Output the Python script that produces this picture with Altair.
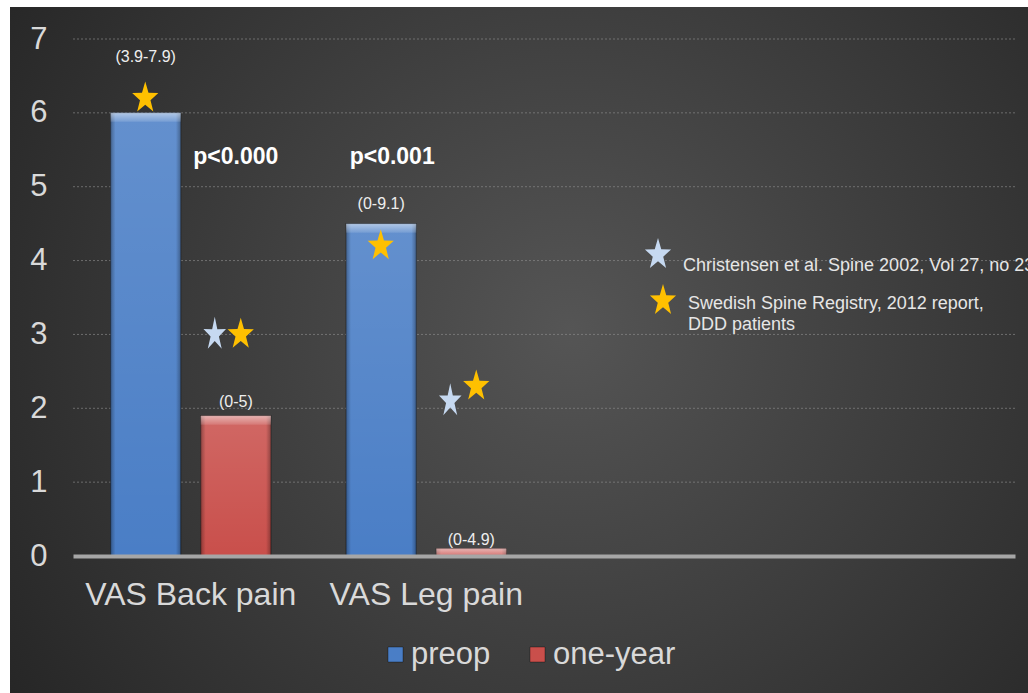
import math
import altair as alt
import pandas as pd

# ---- data -------------------------------------------------------------
categories = ["VAS Back pain", "VAS Leg pain"]
series = ["preop", "one-year"]
preop_means = [6.0, 4.5]
one_year_means = [1.9, 0.1]

# range of each group, printed above the bars (and the height it sits at)
preop_ranges = ["(3.9-7.9)", "(0-9.1)"]
one_year_ranges = ["(0-5)", "(0-4.9)"]
preop_range_at = [6.75, 4.76]
one_year_range_at = [2.08, 0.22]

# comparison cohorts drawn as stars
christensen_one_year = [3.0, 2.1]
registry_preop = [6.2, 4.2]
registry_one_year = [3.0, 2.3]

p_values = ["p<0.000", "p<0.001"]
p_value_at = 5.4

y_ticks = [0, 1, 2, 3, 4, 5, 6, 7]

christensen_label = "Christensen et al. Spine 2002, Vol 27, no 23"
registry_label = ["Swedish Spine Registry, 2012 report,", "DDD patients"]

# ---- tables -----------------------------------------------------------
bars = pd.DataFrame({
    "category": categories * 2,
    "series": [series[0]] * 2 + [series[1]] * 2,
    "y": preop_means + one_year_means,
})
ranges = pd.DataFrame({
    "category": categories * 2,
    "series": [series[0]] * 2 + [series[1]] * 2,
    "label": preop_ranges + one_year_ranges,
    "y": preop_range_at + one_year_range_at,
})
stars_christensen = pd.DataFrame({
    "category": categories,
    "y": christensen_one_year,
})
stars_registry_preop = pd.DataFrame({
    "category": categories,
    "y": registry_preop,
})
stars_registry_one_year = pd.DataFrame({
    "category": categories,
    "y": registry_one_year,
})
pvals = pd.DataFrame({
    "category": categories,
    "series": [series[1], series[0]],
    "label": p_values,
    "y": [p_value_at] * 2,
})
grid = pd.DataFrame({"y": y_ticks[1:]})
legend_rows = pd.DataFrame({"series": series})
one_row = pd.DataFrame({"k": [0]})

# ---- styling ----------------------------------------------------------
FONT = "Liberation Sans"
BLUE = "#4a7ec6"
RED = "#c94f4b"
GOLD = "#ffc000"
PALE = "#c6d9f1"
LABEL = "#d9d9d9"


def star_path(width_factor, inner):
    pts = []
    for i in range(10):
        ang = math.radians(-90 + 36 * i)
        r = 1.0 if i % 2 == 0 else inner
        pts.append((width_factor * r * math.cos(ang), r * math.sin(ang)))
    return "M" + "L".join(f"{x:.4f},{y:.4f}" for x, y in pts) + "Z"


STAR = star_path(0.83, 0.40)
STAR_NARROW = star_path(0.67, 0.37)

x_domain = categories + [" ", "  "]
X = alt.X(
    "category:N",
    scale=alt.Scale(domain=x_domain, paddingInner=0, paddingOuter=0),
    axis=alt.Axis(
        title=None, labelAngle=0, labelFontSize=32, labelColor=LABEL,
        labelFont=FONT, labelPadding=23, labelLimit=0, ticks=False,
        domainColor="#a6a6a6", domainWidth=4, grid=False, zindex=1,
    ),
)
XO = alt.XOffset(
    "series:N",
    scale=alt.Scale(domain=series, paddingInner=0.222, paddingOuter=0.417),
)
Y = alt.Y(
    "y:Q",
    stack=False,
    scale=alt.Scale(domain=[0, 7], nice=False),
    axis=alt.Axis(
        title=None, values=y_ticks, labelFontSize=31, labelColor=LABEL,
        labelFont=FONT, labelPadding=26, ticks=False, domain=False,
        grid=False, zindex=1,
    ),
)
COLOR = alt.Color(
    "series:N", scale=alt.Scale(domain=series, range=[BLUE, RED]), legend=None
)

backdrop = alt.Chart(one_row).mark_rect(
    fill={
        "gradient": "radial",
        "x1": 0.55, "y1": 0.48, "r1": 0,
        "x2": 0.55, "y2": 0.48, "r2": 0.66,
        "stops": [
            {"offset": 0, "color": "#555555"},
            {"offset": 1, "color": "#262626"},
        ],
    }
).encode(
    x=alt.value(-63), x2=alt.value(955), y=alt.value(-32), y2=alt.value(654)
)

gridlines = alt.Chart(grid).mark_rule(
    color="#8c8c8c", strokeDash=[2, 2], strokeWidth=1, opacity=0.65
).encode(y=Y, x=alt.value(0), x2=alt.value(942))

bar_layer = alt.Chart(bars).mark_bar(
    stroke="rgba(0,0,0,0.35)", strokeWidth=1.2
).encode(x=X, xOffset=XO, y=Y, color=COLOR)

sheen = alt.Chart(bars).mark_bar(
    fill={
        "gradient": "linear", "x1": 0, "y1": 0, "x2": 0, "y2": 1,
        "stops": [
            {"offset": 0, "color": "rgba(255,255,255,0.14)"},
            {"offset": 1, "color": "rgba(255,255,255,0)"},
        ],
    }
).encode(x=X, xOffset=XO, y=Y)

edges = alt.Chart(bars).mark_bar(
    fill={
        "gradient": "linear", "x1": 0, "y1": 0, "x2": 1, "y2": 0,
        "stops": [
            {"offset": 0, "color": "rgba(0,0,0,0.30)"},
            {"offset": 0.07, "color": "rgba(0,0,0,0)"},
            {"offset": 0.93, "color": "rgba(0,0,0,0)"},
            {"offset": 1, "color": "rgba(0,0,0,0.30)"},
        ],
    }
).encode(x=X, xOffset=XO, y=Y)

bevel = alt.Chart(bars).mark_bar(
    y2Offset=9,
    fill={
        "gradient": "linear", "x1": 0, "y1": 0, "x2": 0, "y2": 1,
        "stops": [
            {"offset": 0, "color": "rgba(255,255,255,0.50)"},
            {"offset": 1, "color": "rgba(255,255,255,0.12)"},
        ],
    },
).encode(x=X, xOffset=XO, y=Y, y2=alt.Y2("y:Q"))

range_text = alt.Chart(ranges).mark_text(
    fontSize=16, font=FONT, color="#eeeeee", baseline="middle"
).encode(x=X, xOffset=XO, y=Y, text="label:N")

p_first = alt.Chart(pvals).transform_filter(
    alt.datum.label == p_values[0]
).mark_text(
    fontSize=23, font=FONT, fontWeight="bold", color="#ffffff", baseline="middle"
).encode(x=X, xOffset=XO, y=Y, text="label:N")

p_second = alt.Chart(pvals).transform_filter(
    alt.datum.label == p_values[1]
).mark_text(
    fontSize=23, font=FONT, fontWeight="bold", color="#ffffff",
    baseline="middle", dx=11,
).encode(x=X, xOffset=XO, y=Y, text="label:N")

# stars sit beside the bars: offset in pixels from the category centre
pale_stars = alt.Chart(stars_christensen).mark_point(
    shape=STAR_NARROW, filled=True, size=1253, color=PALE, opacity=1,
    strokeWidth=0, xOffset=24,
).encode(x=X, y=Y)

gold_stars_preop = alt.Chart(stars_registry_preop).mark_point(
    shape=STAR, filled=True, size=1100, color=GOLD, opacity=1,
    strokeWidth=0, xOffset=-45.5,
).encode(x=X, y=Y)

gold_stars_one_year = alt.Chart(stars_registry_one_year).mark_point(
    shape=STAR, filled=True, size=1100, color=GOLD, opacity=1,
    strokeWidth=0, xOffset=50,
).encode(x=X, y=Y)

# key for the comparison stars
key_pale = alt.Chart(one_row).mark_point(
    shape=STAR, filled=True, size=1100, color=PALE, opacity=1, strokeWidth=0
).encode(x=alt.value(585), y=alt.value(215.6))
key_gold = alt.Chart(one_row).mark_point(
    shape=STAR, filled=True, size=1100, color=GOLD, opacity=1, strokeWidth=0
).encode(x=alt.value(590), y=alt.value(261.6))
key_pale_text = alt.Chart(one_row).mark_text(
    text=christensen_label, fontSize=18, font=FONT, color="#e6e6e6",
    align="left", baseline="alphabetic",
).encode(x=alt.value(610), y=alt.value(232))
key_gold_text = alt.Chart(one_row).mark_text(
    text=registry_label, fontSize=18, font=FONT, color="#e6e6e6",
    align="left", baseline="alphabetic", lineHeight=21,
).encode(x=alt.value(615), y=alt.value(270))

# key for the bar colours, under the axis
def key_entry(name, sx, tx):
    swatch = alt.Chart(legend_rows).transform_filter(
        alt.datum.series == name
    ).mark_square(
        size=225, opacity=1, stroke="rgba(0,0,0,0.35)", strokeWidth=1
    ).encode(x=alt.value(sx), y=alt.value(615.5), color=COLOR)
    label = alt.Chart(legend_rows).transform_filter(
        alt.datum.series == name
    ).mark_text(
        fontSize=31, font=FONT, color=LABEL, align="left", baseline="alphabetic"
    ).encode(x=alt.value(tx), y=alt.value(625), text="series:N")
    return swatch + label


chart = alt.layer(
    backdrop, gridlines, bar_layer, sheen, edges, bevel, range_text,
    p_first, p_second, pale_stars, gold_stars_preop, gold_stars_one_year,
    key_pale, key_gold, key_pale_text, key_gold_text,
    key_entry(series[0], 322.5, 338), key_entry(series[1], 464.5, 480),
).properties(
    width=942,
    height=517,
    padding={"left": 73, "top": 39, "right": 13, "bottom": 137},
    autosize=alt.AutoSizeParams(type="none"),
    background="#ffffff",
).configure_view(strokeWidth=0)

chart.save("out.html", embed_options={"renderer": "svg", "actions": False})
